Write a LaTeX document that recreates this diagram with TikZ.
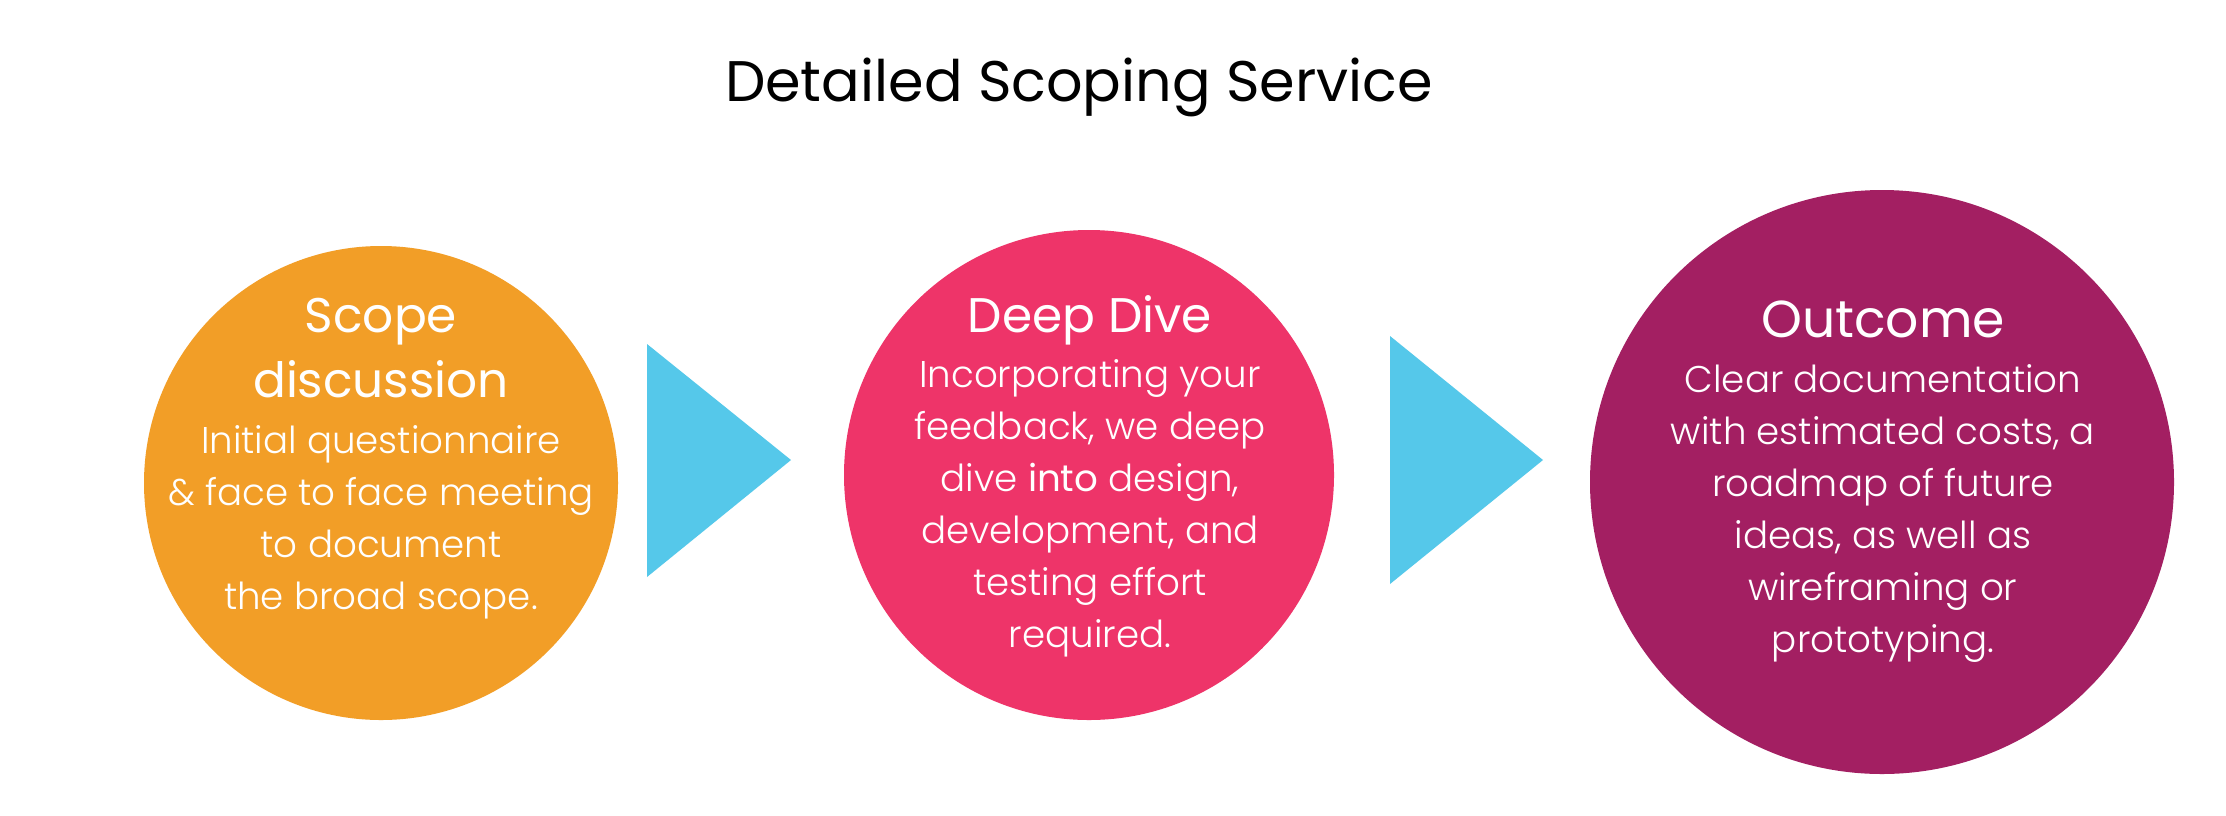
\documentclass[tikz,border=0pt]{standalone}
\usepackage{fontspec}
\setmainfont{Poppins}
\IfFontExistsTF{Poppins Light}{\newfontfamily\lightfont{Poppins Light}}{\newfontfamily\lightfont{Poppins}}
\definecolor{scope-orange}{HTML}{F29E27}
\definecolor{dive-pink}{HTML}{EE3469}
\definecolor{outcome-purple}{HTML}{A31F62}
\definecolor{step-blue}{HTML}{55C8EA}
\begin{document}
\begin{tikzpicture}[x=0.5pt, y=-0.5pt,
    disc/.style={circle, inner sep=0pt},
    heading/.style={text=white, align=center, anchor=base, font=\fontsize{24.3}{32.5}\selectfont},
    body/.style={text=white, align=center, anchor=base, font=\lightfont\fontsize{18.6}{26}\selectfont}]
    \useasboundingbox[fill=white] (0,0) rectangle (2226,815);
    \node[anchor=base, font=\fontsize{28.6}{34}\selectfont] (title) at (1079,101) {Detailed Scoping Service};
    % circles
    \node[disc, fill=scope-orange, minimum size=237pt] (scope) at (381,483) {};
    \node[disc, fill=dive-pink, minimum size=245pt] (dive) at (1089,475) {};
    \node[disc, fill=outcome-purple, minimum size=292pt] (outcome) at (1882,482) {};
    % arrows between
    \fill[step-blue] (647,344) -- (791,460) -- (647,577) -- cycle;
    \fill[step-blue] (1390,336) -- (1543,460) -- (1390,584) -- cycle;
    % texts, placed at the baseline of their last line
    \node[heading] (scope-head) at (381,397) {Scope\\discussion};
    \node[body] (scope-body) at (381,609) {Initial questionnaire\\\& face to face meeting\\to document\\the broad scope.};
    \node[heading] (dive-head) at (1090,332) {Deep Dive};
    \node[body] (dive-body) at (1090,647) {Incorporating your\\feedback, we deep\\dive {\rmfamily into} design,\\development, and\\testing effort\\required.};
    \node[heading, font=\fontsize{26}{32.5}\selectfont] (outcome-head) at (1883,337) {Outcome};
    \node[body] (outcome-body) at (1883,652) {Clear documentation\\with estimated costs, a\\roadmap of future\\ideas, as well as\\wireframing or\\prototyping.};
\end{tikzpicture}
\end{document}
